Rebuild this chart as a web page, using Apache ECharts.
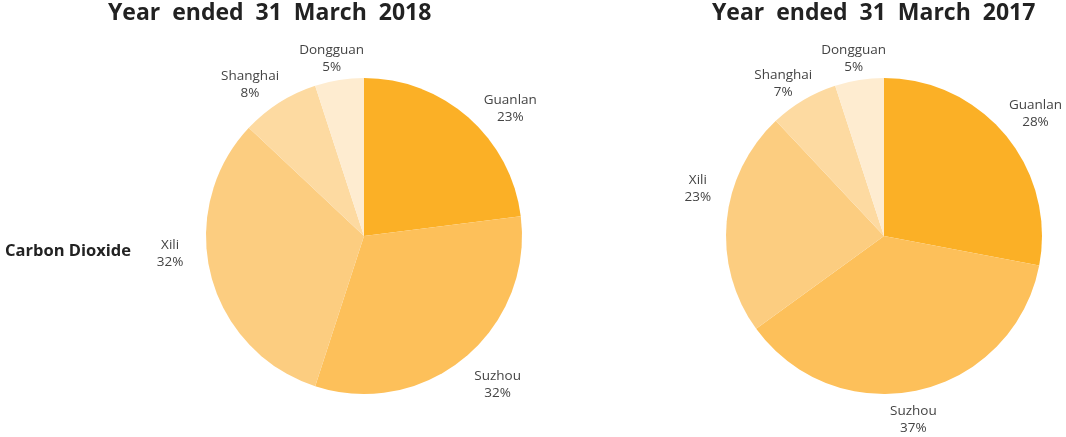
<!DOCTYPE html>
<html>
<head>
<meta charset="utf-8">
<script src="https://cdn.jsdelivr.net/npm/echarts@6/dist/echarts.min.js"></script>
<style>
html, body { margin: 0; padding: 0; background: #fff; }
#chart { width: 1066px; height: 437px; }
</style>
</head>
<body>
<div id="chart"></div>
<script>
var sites = ['Guanlan', 'Suzhou', 'Xili', 'Shanghai', 'Dongguan'];
var share2018 = [23, 32, 32, 8, 5];
var share2017 = [28, 37, 23, 7, 5];
var colors = ['#fbb026', '#fdc05a', '#fccd80', '#fddaa1', '#feecd0'];

// small nudges so the labels sit where the original placed them
var nudge2018 = { Guanlan: [18, 18], Suzhou: [10, -1], Xili: [-6, -31], Shanghai: [-10, 12], Dongguan: [-2, 14] };
var nudge2017 = { Guanlan: [2, 1], Suzhou: [-13, -6], Xili: [7, -29], Shanghai: [-2, 15], Dongguan: [0, 14] };

function toData(vals, withColor, nudge) {
    return sites.map(function (s, i) {
        var d = { name: s, value: vals[i] };
        if (withColor) d.itemStyle = { color: colors[i] };
        if (nudge) d.label = { offset: nudge[s] };
        return d;
    });
}

// pie itself, no labels
function pie(center, vals) {
    return {
        type: 'pie',
        center: center,
        radius: 158,
        startAngle: 90,
        clockwise: true,
        silent: true,
        itemStyle: { borderWidth: 0 },
        label: { show: false },
        labelLine: { show: false },
        data: toData(vals, true)
    };
}

// invisible ring outside the pie, only used to place the labels
function labels(center, vals, nudge) {
    return {
        type: 'pie',
        center: center,
        radius: [160, 222],
        startAngle: 90,
        clockwise: true,
        silent: true,
        itemStyle: { color: 'rgba(0,0,0,0)', borderWidth: 0 },
        label: {
            show: true,
            position: 'inside',
            formatter: '{b}\n{d}%',
            color: '#444',
            fontSize: 13.5,
            lineHeight: 17,
            fontFamily: 'Open Sans'
        },
        labelLine: { show: false },
        data: toData(vals, false, nudge)
    };
}

var chart = echarts.init(document.getElementById('chart'));
var titleStyle = { fontSize: 23, fontWeight: 'bold', color: '#222', fontFamily: 'Open Sans' };
chart.setOption({
    animation: false,
    title: [
        { text: 'Year  ended  31  March  2018', left: 108, top: 2, padding: 0, textStyle: titleStyle },
        { text: 'Year  ended  31  March  2017', left: 712, top: 2, padding: 0, textStyle: titleStyle },
        { text: 'Carbon Dioxide', left: 5, top: 243, padding: 0,
          textStyle: { fontSize: 16.5, fontWeight: 'bold', color: '#222', fontFamily: 'Open Sans' } }
    ],
    series: [
        pie([364, 236], share2018),
        labels([364, 236], share2018, nudge2018),
        pie([884, 236], share2017),
        labels([884, 236], share2017, nudge2017)
    ]
});
</script>
</body>
</html>
